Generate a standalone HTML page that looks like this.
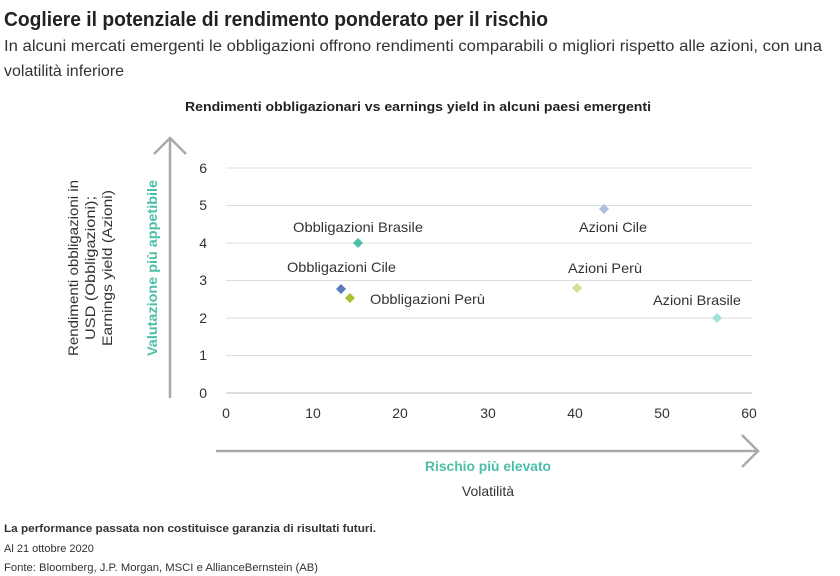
<!DOCTYPE html>
<html><head><style>
html,body{margin:0;padding:0;background:#fff;}
svg{display:block;font-family:"Liberation Sans",sans-serif;}
</style></head><body>
<svg width="840" height="576" viewBox="0 0 840 576" xmlns="http://www.w3.org/2000/svg">
<text x="4" y="26" font-size="20" font-weight="bold" fill="#222" textLength="544" lengthAdjust="spacingAndGlyphs">Cogliere il potenziale di rendimento ponderato per il rischio</text>
<text x="4" y="51" font-size="16" fill="#333" textLength="818" lengthAdjust="spacingAndGlyphs">In alcuni mercati emergenti le obbligazioni offrono rendimenti comparabili o migliori rispetto alle azioni, con una</text>
<text x="4" y="76" font-size="16" fill="#333">volatilità inferiore</text>
<text x="185" y="111" font-size="13" font-weight="bold" fill="#222" textLength="466" lengthAdjust="spacingAndGlyphs">Rendimenti obbligazionari vs earnings yield in alcuni paesi emergenti</text>
<g stroke="#ddd" stroke-width="1">
<line x1="226" y1="168" x2="752" y2="168"/><line x1="226" y1="205.5" x2="752" y2="205.5"/>
<line x1="226" y1="243" x2="752" y2="243"/><line x1="226" y1="280.5" x2="752" y2="280.5"/>
<line x1="226" y1="318" x2="752" y2="318"/><line x1="226" y1="355.5" x2="752" y2="355.5"/>
</g>
<line x1="226" y1="393" x2="752" y2="393" stroke="#bbb" stroke-width="1"/>
<g font-size="14" fill="#333" text-anchor="end">
<text x="207" y="173">6</text><text x="207" y="210">5</text><text x="207" y="248">4</text>
<text x="207" y="285">3</text><text x="207" y="323">2</text><text x="207" y="360">1</text><text x="207" y="398">0</text>
</g>
<g font-size="14" fill="#333" text-anchor="middle">
<text x="226" y="418">0</text><text x="313" y="418">10</text><text x="400" y="418">20</text>
<text x="488" y="418">30</text><text x="575" y="418">40</text><text x="662" y="418">50</text><text x="749" y="418">60</text>
</g>
<g stroke="#aaa" stroke-width="2.5" fill="none">
<line x1="170" y1="139" x2="170" y2="398"/>
<polyline points="154,154 170,138 186,154"/>
<line x1="216" y1="451" x2="757" y2="451"/>
<polyline points="742,435 758,451 742,467"/>
</g>
<text transform="translate(157,268) rotate(-90)" text-anchor="middle" font-size="14" font-weight="bold" fill="#4dbfa8" textLength="176" lengthAdjust="spacingAndGlyphs">Valutazione più appetibile</text>
<g transform="translate(0,268) rotate(-90)" text-anchor="middle" font-size="14" fill="#333">
<text x="0" y="78" textLength="176" lengthAdjust="spacingAndGlyphs">Rendimenti obbligazioni in</text>
<text x="0" y="95" textLength="144" lengthAdjust="spacingAndGlyphs">USD (Obbligazioni);</text>
<text x="0" y="112" textLength="156" lengthAdjust="spacingAndGlyphs">Earnings yield (Azioni)</text>
</g>
<text x="488" y="471" text-anchor="middle" font-size="14" font-weight="bold" fill="#4dbfa8" textLength="126" lengthAdjust="spacingAndGlyphs">Rischio più elevato</text>
<text x="488" y="496" text-anchor="middle" font-size="14" fill="#333">Volatilità</text>
<g>
<path d="M358,238 l5,5 l-5,5 l-5,-5z" fill="#4dbfa8"/>
<path d="M341,284 l5,5 l-5,5 l-5,-5z" fill="#5b7bbd"/>
<path d="M350,293 l5,5 l-5,5 l-5,-5z" fill="#a8c234"/>
<path d="M604,204 l5,5 l-5,5 l-5,-5z" fill="#b0bfdf"/>
<path d="M577,283 l5,5 l-5,5 l-5,-5z" fill="#d4df8f"/>
<path d="M717,313 l5,5 l-5,5 l-5,-5z" fill="#a6e0d6"/>
</g>
<g font-size="14" fill="#333">
<text x="293" y="232" textLength="130" lengthAdjust="spacingAndGlyphs">Obbligazioni Brasile</text>
<text x="287" y="272" textLength="109" lengthAdjust="spacingAndGlyphs">Obbligazioni Cile</text>
<text x="370" y="304" textLength="115" lengthAdjust="spacingAndGlyphs">Obbligazioni Perù</text>
<text x="579" y="232" textLength="68" lengthAdjust="spacingAndGlyphs">Azioni Cile</text>
<text x="568" y="273" textLength="74" lengthAdjust="spacingAndGlyphs">Azioni Perù</text>
<text x="653" y="305" textLength="88" lengthAdjust="spacingAndGlyphs">Azioni Brasile</text>
</g>
<text x="4" y="532" font-size="11" font-weight="bold" fill="#333" textLength="372" lengthAdjust="spacingAndGlyphs">La performance passata non costituisce garanzia di risultati futuri.</text>
<text x="4" y="552" font-size="11" fill="#333">Al 21 ottobre 2020</text>
<text x="4" y="571" font-size="11" fill="#333" textLength="314" lengthAdjust="spacingAndGlyphs">Fonte: Bloomberg, J.P. Morgan, MSCI e AllianceBernstein (AB)</text>
</svg>
</body></html>
